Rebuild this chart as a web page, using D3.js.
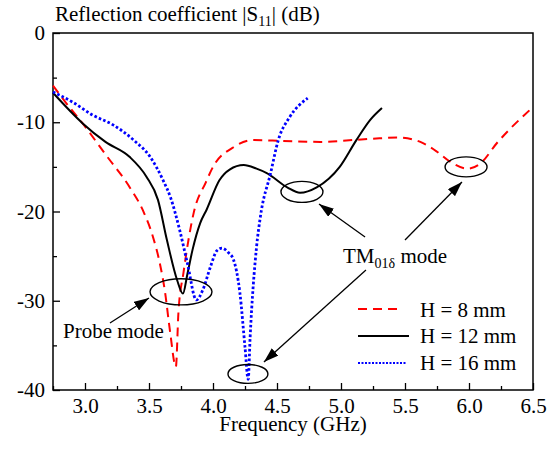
<!DOCTYPE html>
<html>
<head>
<meta charset="utf-8">
<script src="https://cdn.jsdelivr.net/npm/d3@7"></script>
<style>
  body { margin: 0; background: #fff; }
  text { font-family: "Liberation Serif", "DejaVu Serif", "Times New Roman", serif; fill: #000; }
</style>
</head>
<body>
<svg id="chart" width="559" height="449"></svg>
<script>
// Measured |S11| (dB) versus frequency (GHz) for three heights H
const freq8  = [2.75, 2.85, 2.98, 3.16, 3.35, 3.45, 3.53, 3.58, 3.625, 3.665, 3.71, 3.73, 3.77, 3.85, 3.945, 4.00, 4.16, 4.31, 4.55, 4.84, 5.09, 5.30, 5.44, 5.62, 5.75, 5.85, 5.99, 6.09, 6.22, 6.50];
const s11_8  = [-5.9, -7.8, -10.1, -13.6, -17.3, -19.8, -22.8, -25.5, -29.0, -33.5, -37.4, -31.3, -26.8, -20.1, -16.7, -15.0, -12.8, -12.0, -12.1, -12.2, -12.0, -11.8, -11.7, -12.2, -13.3, -14.4, -15.2, -14.6, -12.3, -8.3];

const freq12 = [2.75, 2.98, 3.16, 3.35, 3.48, 3.57, 3.64, 3.72, 3.765, 3.80, 3.84, 3.90, 3.95, 4.05, 4.13, 4.24, 4.34, 4.42, 4.58, 4.68, 4.81, 4.99, 5.12, 5.23, 5.32];
const s11_12 = [-6.7, -10.1, -12.2, -13.9, -16.1, -18.7, -23.2, -27.7, -29.2, -27.0, -24.3, -21.3, -19.8, -16.5, -15.3, -14.8, -15.2, -15.7, -17.3, -17.9, -17.3, -15.0, -12.0, -9.7, -8.4];

const freq16 = [2.75, 2.91, 3.06, 3.22, 3.38, 3.51, 3.61, 3.67, 3.74, 3.80, 3.87, 3.92, 3.98, 4.03, 4.07, 4.12, 4.16, 4.21, 4.25, 4.275, 4.29, 4.34, 4.37, 4.45, 4.51, 4.60, 4.74];
const s11_16 = [-6.6, -7.8, -9.2, -10.3, -12.0, -13.9, -16.5, -18.5, -22.1, -25.8, -29.9, -28.8, -26.2, -24.4, -24.1, -24.6, -25.4, -29.1, -35.2, -38.8, -34.1, -24.0, -20.6, -15.7, -12.0, -9.4, -7.3];

const seriesLabels = ["H = 8 mm", "H = 12 mm", "H = 16 mm"];
const xTicks = [3.0, 3.5, 4.0, 4.5, 5.0, 5.5, 6.0, 6.5];
const xMinorTicks = [2.75, 3.25, 3.75, 4.25, 4.75, 5.25, 5.75, 6.25];
const yTicks = [0, -10, -20, -30, -40];
const yMinorTicks = [-5, -15, -25, -35];

// Annotation marks, in data units
const ellipses = [
  { f: 3.75,  db: -29.0, rf: 0.242, rdb: 1.46 },
  { f: 4.273, db: -38.2, rf: 0.156, rdb: 1.06 },
  { f: 4.695, db: -17.8, rf: 0.164, rdb: 1.18 },
  { f: 5.977, db: -15.0, rf: 0.164, rdb: 1.12 }
];
const arrows = [
  { f0: 3.195, db0: -32.5,  f1: 3.50,  db1: -29.7 },
  { f0: 5.195, db0: -26.55, f1: 4.398, db1: -36.86 },
  { f0: 5.188, db0: -22.86, f1: 4.828, db1: -19.16 },
  { f0: 5.50,  db0: -23.19, f1: 5.945, db1: -16.69 }
];

const svg = d3.select("#chart");
const plotLeft = 53, plotRight = 533, plotTop = 33, plotBottom = 390;

const x = d3.scaleLinear().domain([2.75, 6.5]).range([plotLeft, plotRight]);
const y = d3.scaleLinear().domain([0, -40]).range([plotTop, plotBottom]);

const FS = 21;
const SERIF = '"Liberation Serif", "DejaVu Serif", serif';

// Axes with inward ticks
const gx = svg.append("g").attr("transform", `translate(0,${plotBottom})`)
  .call(d3.axisBottom(x).tickValues(xTicks).tickFormat(d3.format(".1f"))
        .tickSizeInner(-7).tickSizeOuter(0).tickPadding(8));
gx.select(".domain").remove();
gx.attr("font-family", SERIF);
gx.selectAll("text").attr("font-size", FS);
gx.selectAll("line").attr("stroke-width", 1.3);

const gxm = svg.append("g").attr("transform", `translate(0,${plotBottom})`)
  .call(d3.axisBottom(x).tickValues(xMinorTicks).tickFormat("").tickSizeInner(-4).tickSizeOuter(0));
gxm.select(".domain").remove();
gxm.selectAll("line").attr("stroke-width", 1.3);

const gy = svg.append("g").attr("transform", `translate(${plotLeft},0)`)
  .call(d3.axisLeft(y).tickValues(yTicks).tickFormat(d => String(d))
        .tickSizeInner(-7).tickSizeOuter(0).tickPadding(8));
gy.select(".domain").remove();
gy.attr("font-family", SERIF);
gy.selectAll("text").attr("font-size", FS);
gy.selectAll("line").attr("stroke-width", 1.3);

const gym = svg.append("g").attr("transform", `translate(${plotLeft},0)`)
  .call(d3.axisLeft(y).tickValues(yMinorTicks).tickFormat("").tickSizeInner(-4).tickSizeOuter(0));
gym.select(".domain").remove();
gym.selectAll("line").attr("stroke-width", 1.3);

// Frame
svg.append("rect")
  .attr("x", plotLeft).attr("y", plotTop)
  .attr("width", plotRight - plotLeft).attr("height", plotBottom - plotTop)
  .attr("fill", "none").attr("stroke", "#000").attr("stroke-width", 1.5);

// Axis titles
const yt = svg.append("text").attr("x", 55).attr("y", 21).attr("font-size", FS);
yt.append("tspan").text("Reflection coefficient |S");
yt.append("tspan").attr("font-size", 14).attr("dy", 5).text("11");
yt.append("tspan").attr("dy", -5).text("| (dB)");

svg.append("text").attr("x", (plotLeft + plotRight) / 2).attr("y", 431)
  .attr("text-anchor", "middle").attr("font-size", FS).text("Frequency (GHz)");

// Curves
const line = d3.line().x(d => x(d[0])).y(d => y(d[1])).curve(d3.curveMonotoneX);
const series = [
  { f: freq8,  v: s11_8,  color: "#ff0000", width: 2,   dash: "9,6" },
  { f: freq12, v: s11_12, color: "#000000", width: 2,   dash: null },
  { f: freq16, v: s11_16, color: "#0000ff", width: 2.8, dash: "2.6,2.2" }
];
series.forEach(s => {
  svg.append("path")
    .datum(d3.zip(s.f, s.v))
    .attr("d", line)
    .attr("fill", "none")
    .attr("stroke", s.color)
    .attr("stroke-width", s.width)
    .attr("stroke-dasharray", s.dash);
});

// Ellipses around the resonances
svg.selectAll("ellipse.mark").data(ellipses).join("ellipse")
  .attr("class", "mark")
  .attr("cx", d => x(d.f)).attr("cy", d => y(d.db))
  .attr("rx", d => x(d.f + d.rf) - x(d.f))
  .attr("ry", d => y(d.db - d.rdb) - y(d.db))
  .attr("fill", "none").attr("stroke", "#000").attr("stroke-width", 1.4);

// Arrows
svg.append("defs").append("marker")
  .attr("id", "head").attr("viewBox", "0 0 15 10")
  .attr("refX", 15).attr("refY", 5)
  .attr("markerWidth", 15).attr("markerHeight", 10)
  .attr("markerUnits", "userSpaceOnUse").attr("orient", "auto")
  .append("path").attr("d", "M0,0 L15,5 L0,10 Z").attr("fill", "#000");

svg.selectAll("line.arrow").data(arrows).join("line")
  .attr("class", "arrow")
  .attr("x1", d => x(d.f0)).attr("y1", d => y(d.db0))
  .attr("x2", d => x(d.f1)).attr("y2", d => y(d.db1))
  .attr("stroke", "#000").attr("stroke-width", 1.3)
  .attr("marker-end", "url(#head)");

// Annotation texts
svg.append("text").attr("x", x(2.828)).attr("y", y(-34.17)).attr("font-size", FS).text("Probe mode");
const tm = svg.append("text").attr("x", x(5.016)).attr("y", y(-25.77)).attr("font-size", FS);
tm.append("tspan").text("TM");
tm.append("tspan").attr("font-size", 14).attr("dy", 5).text("01δ");
tm.append("tspan").attr("dy", -5).text(" mode");

// Legend
const legendRows = [
  { y: 309, ty: 317, x2: 402 },
  { y: 336, ty: 343, x2: 409 },
  { y: 363, ty: 370, x2: 406 }
];
legendRows.forEach((r, i) => {
  const s = series[i];
  svg.append("line").attr("x1", 358).attr("x2", r.x2).attr("y1", r.y).attr("y2", r.y)
    .attr("stroke", s.color).attr("stroke-width", i === 2 ? 2 : s.width)
    .attr("stroke-dasharray", i === 2 ? "2,1.5" : s.dash);
  svg.append("text").attr("x", 420).attr("y", r.ty).attr("font-size", FS).text(seriesLabels[i]);
});
</script>
</body>
</html>
